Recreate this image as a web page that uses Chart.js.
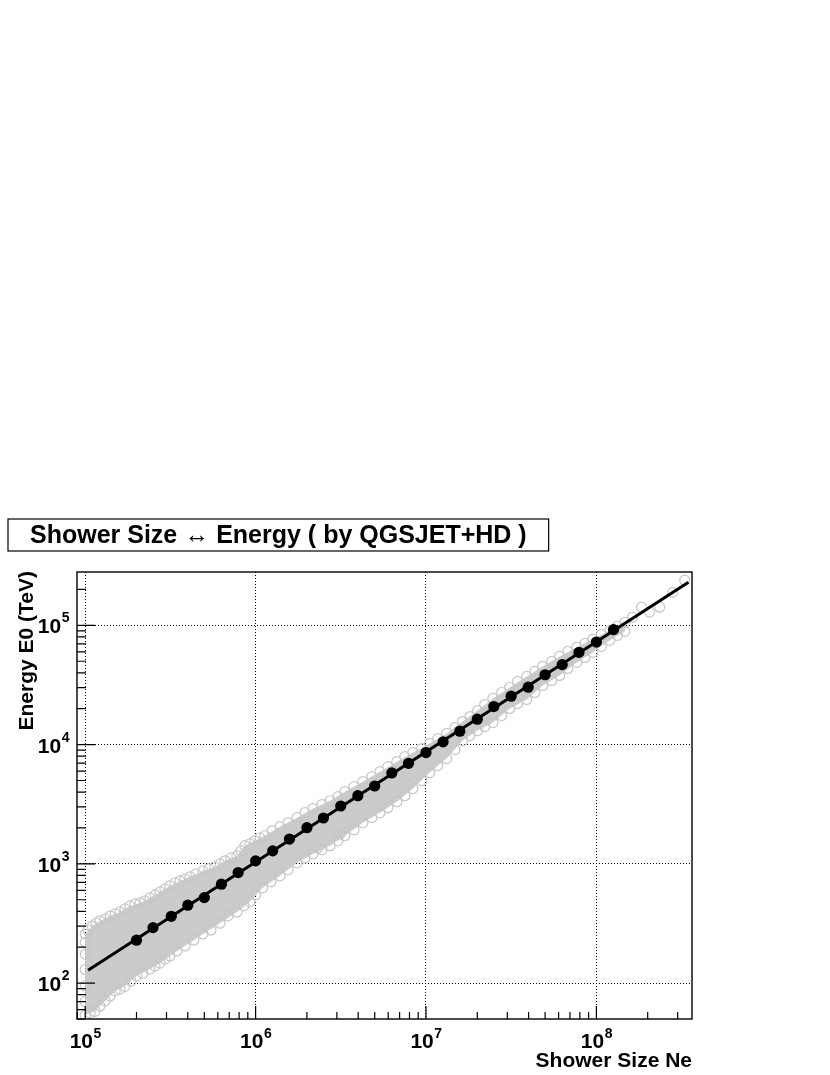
<!DOCTYPE html>
<html>
<head>
<meta charset="utf-8">
<script src="https://cdn.jsdelivr.net/npm/chart.js@4"></script>
<style>
  body { margin: 0; background: #fff; }
  canvas { display: block; }
</style>
</head>
<body>
<canvas id="myChart" width="830" height="1075"></canvas>
<script>
const titleText = "Shower Size \u2194 Energy ( by QGSJET+HD )";
const xTitle = "Shower Size Ne";
const yTitle = "Energy E0 (TeV)";

// axis range and decade labels
const xRange = [8.95e4, 3.64e8];
const yRange = [50, 2.8e5];
const xDecades = [1e5, 1e6, 1e7, 1e8];
const xDecadeExp = ["5", "6", "7", "8"];
const yDecades = [1e2, 1e3, 1e4, 1e5];
const yDecadeExp = ["2", "3", "4", "5"];

// profile (black dots)
const profileX = [2.0e5, 2.5e5, 3.2e5, 4.0e5, 5.0e5, 6.3e5, 7.9e5, 1.0e6, 1.26e6, 1.58e6,
  2.0e6, 2.5e6, 3.16e6, 3.98e6, 5.0e6, 6.3e6, 7.9e6, 1.0e7, 1.26e7, 1.58e7,
  2.0e7, 2.5e7, 3.16e7, 3.98e7, 5.0e7, 6.3e7, 7.9e7, 1.0e8, 1.26e8];
const profileY = [229, 292, 363, 450, 521, 675, 845, 1059, 1285, 1613,
  2010, 2423, 3055, 3727, 4494, 5785, 6966, 8570, 10540, 12950,
  16330, 20850, 25450, 30300, 38500, 46800, 59300, 72400, 92000];

// power law fit, end points
const fitX = [1.04e5, 3.47e8];
const fitY = [128, 2.3e5];

// grey cloud: upper and lower edge (used for the filled body and edge circles)
const cloudUpX = [1.0e5, 1.10e5, 1.22e5, 1.40e5, 1.60e5, 1.83e5, 2.10e5, 2.40e5, 2.75e5, 3.14e5,
  3.60e5, 4.12e5, 4.91e5, 5.77e5, 6.61e5, 7.77e5, 8.65e5, 9.91e5, 1.13e6, 1.39e6,
  1.75e6, 2.17e6, 2.73e6, 3.34e6, 4.26e6, 5.36e6, 6.74e6, 8.37e6, 1.05e7, 1.32e7,
  1.64e7, 2.01e7, 2.47e7, 3.10e7, 3.90e7, 4.84e7, 6.09e7, 7.67e7, 9.51e7, 1.20e8, 1.47e8];
const cloudUpY = [258, 301, 332, 366, 395, 444, 470, 518, 582, 653,
  719, 778, 873, 944, 1060, 1170, 1420, 1560, 1720, 2050,
  2440, 2900, 3380, 4030, 4890, 5930, 7190, 8560, 10200, 12400,
  15600, 19300, 24400, 30100, 37300, 45200, 54900, 65300, 76300, 90800, 106000];
const cloudLowX = [1.0e5, 1.14e5, 1.31e5, 1.50e5, 1.71e5, 2.01e5, 2.40e5, 2.75e5, 3.14e5, 3.85e5,
  4.91e5, 6.18e5, 7.77e5, 9.26e5, 1.10e6, 1.39e6, 1.75e6, 2.17e6, 2.73e6, 3.34e6,
  4.26e6, 5.36e6, 6.74e6, 8.37e6, 1.05e7, 1.32e7, 1.64e7, 2.01e7, 2.47e7, 3.10e7,
  3.90e7, 4.84e7, 6.09e7, 7.67e7, 9.51e7, 1.20e8, 1.47e8];
const cloudLowY = [54, 58, 71, 86, 94, 115, 131, 147, 169, 205,
  258, 318, 395, 482, 629, 793, 1020, 1210, 1420, 1720,
  2210, 2680, 3320, 4270, 5820, 7630, 10800, 13100, 15300, 20100,
  23900, 31300, 38000, 48900, 59300, 74800, 89100];

// more circles along the edges
const edgeUpX = [1.04e5, 1.16e5, 1.31e5, 1.50e5, 1.71e5, 1.96e5, 2.24e5, 2.57e5, 2.94e5, 3.36e5,
  3.85e5, 4.46e5, 5.32e5, 6.18e5, 7.16e5, 8.20e5, 9.26e5, 1.06e6, 1.25e6, 1.55e6,
  1.95e6, 2.45e6, 3.04e6, 3.78e6, 4.81e6, 5.97e6, 7.52e6, 9.45e6, 1.17e7, 1.48e7,
  1.81e7, 2.21e7, 2.78e7, 3.45e7, 4.35e7, 5.47e7, 6.79e7, 8.55e7, 1.07e8, 1.33e8];
const edgeUpY = [279, 319, 345, 380, 419, 462, 489, 549, 617, 692,
  748, 824, 908, 1000, 1122, 1285, 1472, 1655, 1892, 2213,
  2685, 3135, 3658, 4440, 5385, 6535, 7926, 9253, 11220, 13890,
  17180, 21670, 27330, 33830, 41040, 49800, 60500, 70630, 84000, 98200];
const edgeLowX = [1.07e5, 1.22e5, 1.40e5, 1.60e5, 1.86e5, 2.18e5, 2.57e5, 2.94e5, 3.45e5, 4.34e5,
  5.47e5, 6.88e5, 8.54e5, 1.00e6, 1.23e6, 1.55e6, 1.95e6, 2.45e6, 3.04e6, 3.78e6,
  4.81e6, 5.97e6, 7.52e6, 9.45e6, 1.17e7, 1.48e7, 1.81e7, 2.21e7, 2.78e7, 3.45e7,
  4.35e7, 5.47e7, 6.79e7, 8.55e7, 1.07e8, 1.33e8];
const edgeLowY = [56, 64, 78, 89, 104, 121, 139, 159, 186, 230,
  279, 366, 444, 549, 706, 891, 1122, 1312, 1560, 1930,
  2437, 2958, 3727, 4985, 6668, 9085, 11910, 14170, 17520, 22110,
  27330, 34500, 43520, 53800, 66700, 82400];

// stray points (left column, below the band, upper right tail)
const strayX = [1.0e5, 1.0e5, 1.0e5, 1.0e5, 1.0e5, 2.32e6, 3.13e6, 5.36e6, 7.82e6,
  1.63e8, 1.84e8, 2.05e8, 2.35e8, 2.80e8, 3.30e8];
const strayY = [70, 95, 130, 175, 220, 1365, 1787, 3070, 4700,
  117000, 142000, 129000, 142000, 189000, 239000];

const toPts = (xs, ys) => xs.map((x, i) => ({x: x, y: ys[i]}));
const bandPts = toPts(cloudUpX, cloudUpY).concat(toPts(cloudLowX, cloudLowY).reverse());
const circlePts = toPts(cloudUpX, cloudUpY).concat(
  toPts(cloudLowX, cloudLowY), toPts(edgeUpX, edgeUpY),
  toPts(edgeLowX, edgeLowY), toPts(strayX, strayY));

const FONT = "'Liberation Sans', Arial, Helvetica, sans-serif";

const rootStyle = {
  id: 'rootStyle',
  afterDraw(chart) {
    const ctx = chart.ctx;
    const a = chart.chartArea;
    const xs = chart.scales.x, ys = chart.scales.y;
    ctx.save();

    // frame
    ctx.strokeStyle = '#111';
    ctx.lineWidth = 1.5;
    ctx.strokeRect(a.left, a.top, a.right - a.left, a.bottom - a.top);

    // inward ticks
    ctx.lineWidth = 1.2;
    ctx.strokeStyle = '#000';
    ctx.beginPath();
    for (let e = 4; e <= 8; e++) {
      for (let m = 1; m <= 9; m++) {
        const v = m * Math.pow(10, e);
        if (v < xs.min || v > xs.max) continue;
        const px = xs.getPixelForValue(v);
        const len = m === 1 ? 13 : 7;
        ctx.moveTo(px, a.bottom);
        ctx.lineTo(px, a.bottom - len);
      }
    }
    for (let e = 1; e <= 5; e++) {
      for (let m = 1; m <= 9; m++) {
        const v = m * Math.pow(10, e);
        if (v < ys.min || v > ys.max) continue;
        const py = ys.getPixelForValue(v);
        const len = m === 1 ? 18 : 9;
        ctx.moveTo(a.left, py);
        ctx.lineTo(a.left + len, py);
      }
    }
    ctx.stroke();

    // tick labels 10^n
    ctx.fillStyle = '#000';
    ctx.textAlign = 'left';
    ctx.textBaseline = 'alphabetic';
    const big = 'bold 21px ' + FONT, small = 'bold 14px ' + FONT;
    xDecades.forEach((v, i) => {
      ctx.font = big;
      const w1 = ctx.measureText('10').width;
      ctx.font = small;
      const w2 = ctx.measureText(xDecadeExp[i]).width;
      const x0 = xs.getPixelForValue(v) - (w1 + w2) / 2;
      ctx.font = big;
      ctx.fillText('10', x0, 1048);
      ctx.font = small;
      ctx.fillText(xDecadeExp[i], x0 + w1 + 0.5, 1038);
    });
    yDecades.forEach((v, i) => {
      ctx.font = big;
      const w1 = ctx.measureText('10').width;
      ctx.font = small;
      const w2 = ctx.measureText(yDecadeExp[i]).width;
      const py = ys.getPixelForValue(v);
      const x0 = 69 - (w1 + w2);
      ctx.font = big;
      ctx.fillText('10', x0, py + 8);
      ctx.font = small;
      ctx.fillText(yDecadeExp[i], x0 + w1 + 0.5, py - 3);
    });

    // axis titles
    ctx.font = 'bold 21px ' + FONT;
    ctx.textAlign = 'right';
    ctx.fillText(xTitle, a.right, 1067);
    ctx.save();
    ctx.translate(33, a.top - 1);
    ctx.rotate(-Math.PI / 2);
    ctx.fillText(yTitle, 0, 0);
    ctx.restore();

    // title box
    ctx.font = 'bold 25px ' + FONT;
    ctx.textAlign = 'left';
    const tw = ctx.measureText(titleText).width;
    ctx.fillStyle = '#fff';
    ctx.fillRect(8, 519, tw + 44, 32);
    ctx.strokeStyle = '#000';
    ctx.lineWidth = 1.2;
    ctx.strokeRect(8, 519, tw + 44, 32);
    ctx.fillStyle = '#000';
    ctx.fillText(titleText, 30, 543);

    ctx.restore();
  }
};

new Chart("myChart", {
  type: "scatter",
  data: {
    datasets: [
      {
        type: "line",
        data: bandPts,
        fill: "shape",
        backgroundColor: "#cbcbcb",
        borderWidth: 0,
        pointRadius: 0,
        tension: 0,
        order: 4
      },
      {
        data: circlePts,
        pointStyle: "circle",
        pointRadius: 5,
        backgroundColor: "rgba(0,0,0,0)",
        borderColor: "#c6c6c6",
        borderWidth: 1.2,
        order: 3
      },
      {
        type: "line",
        data: toPts(fitX, fitY),
        borderColor: "#000",
        borderWidth: 3,
        pointRadius: 0,
        fill: false,
        order: 2
      },
      {
        data: toPts(profileX, profileY),
        pointStyle: "circle",
        pointRadius: 5.6,
        backgroundColor: "#000",
        borderColor: "#000",
        borderWidth: 0,
        order: 1
      }
    ]
  },
  options: {
    responsive: false,
    animation: false,
    layout: { padding: { top: 572, right: 138, left: 0, bottom: 0 } },
    plugins: { legend: { display: false }, tooltip: { enabled: false } },
    scales: {
      x: {
        type: "logarithmic",
        min: xRange[0],
        max: xRange[1],
        afterBuildTicks: s => { s.ticks = xDecades.map(v => ({value: v})); },
        afterFit: s => { s.height = 56; },
        ticks: { display: false },
        grid: { color: "#000", lineWidth: 1, drawTicks: false },
        border: { display: false, dash: [1, 2] }
      },
      y: {
        type: "logarithmic",
        min: yRange[0],
        max: yRange[1],
        afterBuildTicks: s => { s.ticks = yDecades.map(v => ({value: v})); },
        afterFit: s => { s.width = 77; },
        ticks: { display: false },
        grid: { color: "#000", lineWidth: 1, drawTicks: false },
        border: { display: false, dash: [1, 2] }
      }
    }
  },
  plugins: [rootStyle]
});
</script>
</body>
</html>
